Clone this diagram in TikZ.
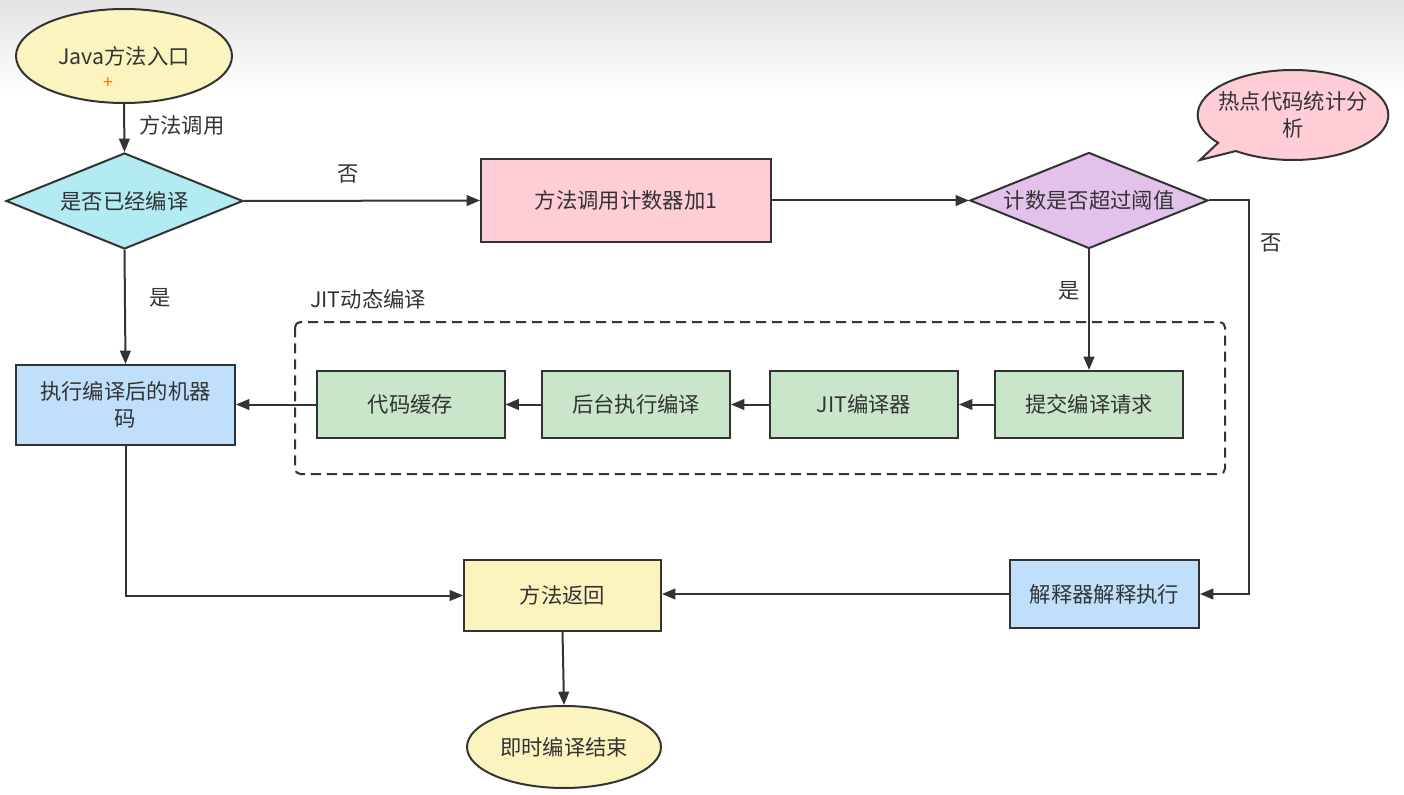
\documentclass[tikz,border=0pt]{standalone}
\usepackage{fontspec}
\setmainfont{Noto Sans CJK SC}
\usetikzlibrary{shapes.geometric,shapes.callouts,arrows.meta}
\definecolor{ink}{HTML}{333333}
\definecolor{cyellow}{HTML}{FBF4BF}
\definecolor{ccyan}{HTML}{B3EBF3}
\definecolor{cpink}{HTML}{FFCDD6}
\definecolor{clav}{HTML}{E2C2EB}
\definecolor{cgreen}{HTML}{C9E6CA}
\definecolor{cblue}{HTML}{BFDFFA}
\tikzset{
  base/.style={draw=ink, line width=1.5pt, text=ink, font=\fontsize{16}{20}\selectfont, align=center, inner sep=0pt},
  boxn/.style={base, rectangle},
  ellip/.style={base, ellipse},
  diam/.style={base, diamond, aspect=2.47},
  lbl/.style={text=ink, font=\fontsize{16}{20}\selectfont, inner sep=0pt},
  conn/.style={draw=ink, line width=1.5pt, -{Triangle[length=10pt,width=8pt]}},
  plain/.style={draw=ink, line width=1.5pt},
}
\begin{document}
\begin{tikzpicture}[x=0.75pt,y=-0.75pt]
\useasboundingbox (0,0) rectangle (1404,795);
\fill[white] (0,0) rectangle (1404,795);
\shade[top color=black!11, bottom color=white] (0,0) rectangle (1404,95);

% nodes
\node[ellip, fill=cyellow, minimum width=162pt, minimum height=70.5pt] (start) at (124,56) {Java方法入口};
\node[text=orange!90!red, font=\fontsize{13}{13}\selectfont, inner sep=0pt] (plus) at (108,83) {+};
\node[diam, fill=ccyan, minimum width=177.75pt, minimum height=72pt] (d1) at (124.5,201) {是否已经编译};
\node[boxn, fill=cpink, minimum width=217.5pt, minimum height=62.25pt] (cnt) at (626,200.5) {方法调用计数器加1};
\node[diam, fill=clav, minimum width=178.5pt, minimum height=72pt] (d2) at (1089,200.5) {计数是否超过阈值};
\node[ellipse callout, base, inner xsep=-10pt, fill=cpink, minimum width=143pt, minimum height=67.5pt,
      callout absolute pointer={(1200,160)}] (hot) at (1293,115) {热点代码统计分\\析};
\node[boxn, fill=cblue, minimum width=164.25pt, minimum height=60pt] (exec) at (125.5,405) {执行编译后的机器\\码};
\node[boxn, fill=cgreen, minimum width=141pt, minimum height=50.25pt] (sub) at (1089,404.5) {提交编译请求};
\node[boxn, fill=cgreen, minimum width=141pt, minimum height=50.25pt] (jit) at (864,404.5) {JIT编译器};
\node[boxn, fill=cgreen, minimum width=141pt, minimum height=50.25pt] (bg) at (636,404.5) {后台执行编译};
\node[boxn, fill=cgreen, minimum width=141pt, minimum height=50.25pt] (cache) at (410.5,404.5) {代码缓存};
\node[boxn, fill=cyellow, minimum width=147.75pt, minimum height=53.25pt] (ret) at (562.5,595.5) {方法返回};
\node[boxn, fill=cblue, minimum width=141.75pt, minimum height=51pt] (interp) at (1104.5,594) {解释器解释执行};
\node[ellip, fill=cyellow, minimum width=145.5pt, minimum height=61.5pt] (end) at (564,747) {即时编译结束};

% group
\draw[ink, line width=1.5pt, dash pattern=on 7.5pt off 4.5pt, rounded corners=4pt] (295,322) rectangle (1225,474);
\node[lbl, anchor=west] (grp) at (310,299) {JIT动态编译};

% labels
\node[lbl, anchor=west] (l1) at (139,125) {方法调用};
\node[lbl] (l2) at (348,174) {否};
\node[lbl] (l3) at (160,298) {是};
\node[lbl] (l4) at (1069,291) {是};
\node[lbl] (l5) at (1271,243) {否};

% connectors
\draw[conn] (start.south) -- (d1.north);
\draw[conn] (d1.east) -- (cnt.west);
\draw[conn] (cnt.east) -- (d2.west);
\draw[conn] (d1.south) -- (exec.north);
\draw[conn] (d2.south) -- (sub.north);
\draw[conn] (sub.west) -- (jit.east);
\draw[conn] (jit.west) -- (bg.east);
\draw[conn] (bg.west) -- (cache.east);
\draw[conn] (cache.west) -- (exec.east |- cache.west);
\coordinate (dr) at (1249,200.5);
\draw[conn] (d2.east) -- (dr) |- (interp.east);
\draw[conn] (exec.south) |- (ret.west);
\draw[conn] (interp.west) -- (interp.west -| ret.east);
\draw[conn] (ret.south) -- (end.north);
\end{tikzpicture}
\end{document}
